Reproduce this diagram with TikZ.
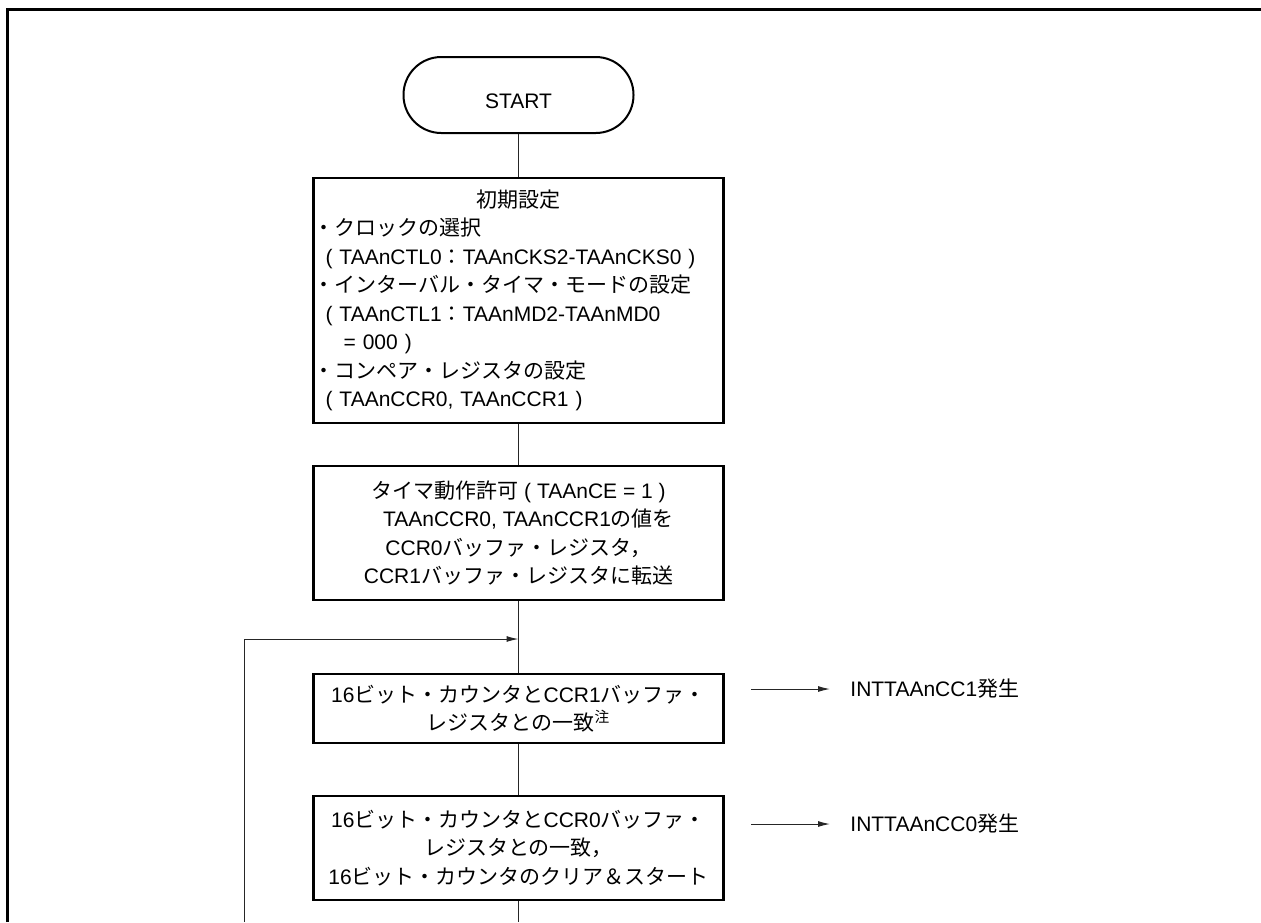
\documentclass[tikz,border=0pt]{standalone}
\usepackage{fontspec}
\setmainfont{Liberation Sans}
\newfontfamily\jp{Noto Sans CJK JP}
\newcommand\J[1]{{\jp #1}}
\usetikzlibrary{arrows.meta}
\begin{document}
\begin{tikzpicture}[x=0.5pt,y=-0.5pt,
  txt/.style={font=\fontsize{10.5pt}{14.25pt}\selectfont},
  procbox/.style={txt,draw,line width=1.2pt,minimum width=205pt,inner sep=0pt,align=center},
  conn/.style={line width=0.5pt,draw=black!85},
  tip/.style={-{Latex[length=6pt,width=3pt]}},
  frame/.style={line width=1.5pt}]
\useasboundingbox (0,0) rectangle (1261,922);
% outer frame
\coordinate (fTL) at (7,9);
\coordinate (fTR) at (1261,9);
\coordinate (fBL) at (7,922);
\draw[frame] (fBL) -- (fTL) -- (fTR);
% nodes
\node[txt,draw,line width=1pt,rounded corners=18.9pt,minimum width=115pt,minimum height=38pt,text height=13pt,text depth=0pt] (start) at (518.5,95) {START};
\node[procbox,minimum height=122.5pt,text width=205pt,align=left] (init) at (518.5,300.5) {%
\makebox[205pt][c]{\J{初期設定}}\\
\J{・クロックの選択}\\
\hspace*{6pt}( TAAnCTL0\J{：}TAAnCKS2-TAAnCKS0 )\\
\J{・インターバル・タイマ・モードの設定}\\
\hspace*{6pt}( TAAnCTL1\J{：}TAAnMD2-TAAnMD0\\
\hspace*{15pt}= 000 )\\
\J{・コンペア・レジスタの設定}\\
\hspace*{6pt}( TAAnCCR0, TAAnCCR1 )};
\node[procbox,minimum height=67pt] (tim) at (518.5,533) {%
\J{タイマ動作許可} ( TAAnCE = 1 )\\
\hspace*{10pt}TAAnCCR0, TAAnCCR1\J{の値を}\\
CCR0\J{バッファ・レジスタ，}\\
CCR1\J{バッファ・レジスタに転送}};
\node[procbox,minimum height=34.5pt] (m1) at (518.5,708.5) {%
16\J{ビット・カウンタと}CCR1\J{バッファ・}\\
\J{レジスタとの一致}\textsuperscript{\J{注}}};
\node[procbox,minimum height=52pt] (m0) at (518.5,848) {%
16\J{ビット・カウンタと}CCR0\J{バッファ・}\\
\J{レジスタとの一致，}\\
16\J{ビット・カウンタのクリア＆スタート}};
\node[txt,anchor=west,inner xsep=10pt,inner ysep=0pt] (l1) at (830,689) {INTTAAnCC1\J{発生}};
\node[txt,anchor=west,inner xsep=10pt,inner ysep=0pt] (l0) at (830,824) {INTTAAnCC0\J{発生}};
% connectors
\draw[conn] (start) -- (init);
\draw[conn] (init) -- (tim);
\draw[conn] (tim) -- (m1);
\draw[conn] (m1) -- (m0);
\coordinate (endB) at (518.5,922);
\draw[conn] (m0) -- (endB);
\coordinate (fbB) at (244,922);
\coordinate (fbJ) at (518.5,639);
\draw[conn,tip] (fbB) |- (fbJ);
\coordinate (a1s) at (751,689);
\coordinate (a0s) at (751,824);
\draw[conn,tip] (a1s) -- (l1.west);
\draw[conn,tip] (a0s) -- (l0.west);
\end{tikzpicture}
\end{document}
